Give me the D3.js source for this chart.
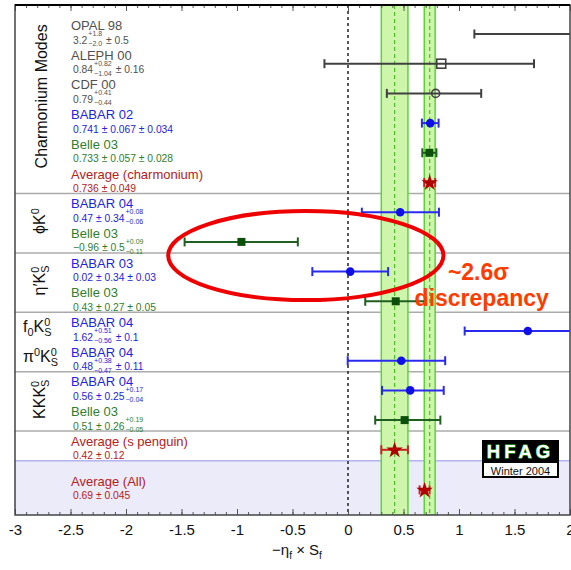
<!DOCTYPE html>
<html lang="en">
<head>
<meta charset="UTF-8">
<title>sin2beta summary - HFAG Winter 2004</title>
<script src="https://d3js.org/d3.v7.min.js"></script>
<style>
  body { margin: 0; background: #fff; }
  svg text { font-family: "Liberation Sans", Arial, sans-serif; white-space: pre; }
</style>
</head>
<body>
<div id="chart"></div>
<script>
// measurements, top to bottom
const labels = ["OPAL 98", "ALEPH 00", "CDF 00", "BABAR 02", "Belle 03", "Average (charmonium)",
  "BABAR 04", "Belle 03", "BABAR 03", "Belle 03", "BABAR 04", "BABAR 04",
  "BABAR 04", "Belle 03", "Average (s penguin)", "Average (All)"];
const central = [3.2, 0.84, 0.79, 0.741, 0.733, 0.736, 0.47, -0.96, 0.02, 0.43, 1.62, 0.48, 0.56, 0.51, 0.42, 0.69];
const statHi  = [1.8, 0.82, 0.41, 0.067, 0.057, 0.049, 0.34, 0.5, 0.34, 0.27, 0.51, 0.38, 0.25, 0.26, 0.12, 0.045];
const statLo  = [2.0, 1.04, 0.44, 0.067, 0.057, 0.049, 0.34, 0.5, 0.34, 0.27, 0.56, 0.47, 0.25, 0.26, 0.12, 0.045];
const systHi  = [0.5, 0.16, 0, 0.034, 0.028, 0, 0.08, 0.09, 0.03, 0.05, 0.1, 0.11, 0.17, 0.19, 0, 0];
const systLo  = [0.5, 0.16, 0, 0.034, 0.028, 0, 0.06, 0.11, 0.03, 0.05, 0.1, 0.11, 0.04, 0.05, 0, 0];

// mode groups (first row, last row)
const groupNames = ["Charmonium Modes", "ϕK^{0}", "η′K^{0}_{S}", "f_{0}K^{0}_{S}", "π^{0}K^{0}_{S}", "KKK^{0}_{S}"];
const groupRows = [[0, 5], [6, 7], [8, 9], [10, 10], [11, 11], [12, 13]];
const sepAfter = [5, 7, 9, 11, 13];
const bandRows = [14, 5];   // s penguin average and charmonium average bands
const xTicks = [-3, -2.5, -2, -1.5, -1, -0.5, 0, 0.5, 1, 1.5, 2];

const width = 571, height = 570;
const pLeft = 15, pRight = 570, pTop = 5, pBottom = 515;

const svg = d3.select("#chart").append("svg")
  .attr("width", width).attr("height", height);

const x = d3.scaleLinear().domain([-3, 2]).range([pLeft, pRight]);
const y = d3.scaleLinear().domain([0, 15]).range([34, 479.5]);
const rowY = i => y(i === 15 ? 15.35 : i);

const tot = (a, b) => Math.sqrt(a * a + b * b);

function styleOf(name) {
  if (name.startsWith("BABAR")) return { text: "#2323dd", bar: "#2a2aee", mark: "#1010e6", shape: "circle" };
  if (name.startsWith("Belle")) return { text: "#2f7d2f", bar: "#1f5f1f", mark: "#0b4f0b", shape: "square" };
  if (name.startsWith("Average")) return { text: "#b52020", bar: "#cc2222", mark: "#b00000", shape: "star" };
  if (name.startsWith("ALEPH")) return { text: "#505050", bar: "#404040", mark: "#404040", shape: "squareOpen" };
  return { text: "#505050", bar: "#404040", mark: "#404040", shape: "circleOpen" };
}

svg.append("defs").append("clipPath").attr("id", "plotclip")
  .append("rect").attr("x", pLeft).attr("y", pTop).attr("width", pRight - pLeft).attr("height", pBottom - pTop);

// shaded overall-average area
const shadeTop = y(14.37);
svg.append("rect").attr("x", pLeft).attr("y", shadeTop).attr("width", pRight - pLeft)
  .attr("height", pBottom - shadeTop).attr("fill", "#ebebfa");
svg.append("line").attr("x1", pLeft).attr("x2", pRight).attr("y1", shadeTop).attr("y2", shadeTop)
  .attr("stroke", "#b4b4f0").attr("stroke-width", 1.5);

// section separators
svg.selectAll(".sep").data(sepAfter).enter().append("line")
  .attr("class", "sep")
  .attr("x1", pLeft).attr("x2", pRight)
  .attr("y1", d => y(d + 0.37)).attr("y2", d => y(d + 0.37))
  .attr("stroke", "#ababab").attr("stroke-width", 1.5);

const plot = svg.append("g").attr("clip-path", "url(#plotclip)");

// average bands
const bands = plot.selectAll(".band").data(bandRows).enter().append("g").attr("class", "band");
bands.append("rect")
  .attr("x", i => x(central[i] - statLo[i]))
  .attr("width", i => x(central[i] + statHi[i]) - x(central[i] - statLo[i]))
  .attr("y", pTop).attr("height", pBottom - pTop)
  .attr("fill", "#cdf6ab").attr("stroke", "#62cf3c").attr("stroke-width", 1.5);
bands.append("line")
  .attr("x1", i => x(central[i])).attr("x2", i => x(central[i]))
  .attr("y1", pTop).attr("y2", pBottom)
  .attr("stroke", "#4cbb2a").attr("stroke-width", 1.2).attr("stroke-dasharray", "4,3");

// zero line
plot.append("line").attr("x1", x(0)).attr("x2", x(0)).attr("y1", pTop).attr("y2", pBottom)
  .attr("stroke", "#222").attr("stroke-width", 1.5).attr("stroke-dasharray", "3,3");

// error bars and markers
const rows = d3.range(labels.length);
const eb = plot.selectAll(".row").data(rows).enter().append("g").attr("class", "row")
  .attr("transform", i => `translate(0,${rowY(i)})`);

const lo = i => x(central[i] - tot(statLo[i], systLo[i]));
const hi = i => x(central[i] + tot(statHi[i], systHi[i]));

eb.append("line").attr("x1", lo).attr("x2", hi).attr("y1", 0).attr("y2", 0)
  .attr("stroke", i => styleOf(labels[i]).bar).attr("stroke-width", 2);
eb.append("line").attr("x1", lo).attr("x2", lo).attr("y1", -4.5).attr("y2", 4.5)
  .attr("stroke", i => styleOf(labels[i]).bar).attr("stroke-width", 2);
eb.append("line").attr("x1", hi).attr("x2", hi).attr("y1", -4.5).attr("y2", 4.5)
  .attr("stroke", i => styleOf(labels[i]).bar).attr("stroke-width", 2);

eb.each(function(i) {
  const g = d3.select(this);
  const s = styleOf(labels[i]);
  const cx = x(central[i]);
  if (s.shape === "circle") {
    g.append("circle").attr("cx", cx).attr("r", 4.3).attr("fill", s.mark);
  } else if (s.shape === "square") {
    g.append("rect").attr("x", cx - 4).attr("y", -4).attr("width", 8).attr("height", 8).attr("fill", s.mark);
  } else if (s.shape === "star") {
    g.append("path").attr("d", d3.symbol(d3.symbolStar).size(85)())
      .attr("transform", `translate(${cx},0.5)`).attr("fill", s.mark);
  } else if (s.shape === "squareOpen") {
    g.append("rect").attr("x", cx - 4.5).attr("y", -4.5).attr("width", 9).attr("height", 9)
      .attr("fill", "none").attr("stroke", s.mark).attr("stroke-width", 1.6);
  } else {
    g.append("circle").attr("cx", cx).attr("r", 4).attr("fill", "none")
      .attr("stroke", s.mark).attr("stroke-width", 1.6);
  }
});

// measurement labels
const num = v => (Number.isInteger(v) ? v.toFixed(1) : String(v));

function valueText(g, x0, yb, i, color) {
  let cx = x0;
  const piece = (str, size, dy) => g.append("text").attr("x", cx).attr("y", yb + dy)
    .attr("font-size", size).attr("fill", color).text(str)
    .node().getComputedTextLength();
  const err = (h, l) => {
    if (h === l) {
      cx += piece(" \u00b1 " + num(h), 10.3, 0);
    } else {
      cx += 1;
      const w1 = piece("+" + num(h), 7, -7.5);
      const w2 = piece("\u2212" + num(l), 7, 2.5);
      cx += Math.max(w1, w2) + 1;
    }
  };
  cx += piece(String(central[i]).replace("-", "\u2212"), 10.3, 0);
  err(statHi[i], statLo[i]);
  if (systHi[i] > 0) err(systHi[i], systLo[i]);
}

const lab = svg.append("g");
rows.forEach(i => {
  const s = styleOf(labels[i]);
  const yy = rowY(i);
  lab.append("text").attr("x", 71).attr("y", yy - 4).attr("font-size", 13)
    .attr("fill", s.text).text(labels[i]);
  valueText(lab, 73, yy + 9.5, i, s.text);
});

// group labels with simple ^{..} / _{..} markup
function richText(t, str, size) {
  const small = size * 0.68;
  const re = /(\^\{[^}]*\}|_\{[^}]*\}|[^^_]+)/g;
  const parts = str.match(re);
  let shift = 0, prevSup = 0;
  parts.forEach(p => {
    if (p.startsWith("^")) {
      const s = p.slice(2, -1);
      t.append("tspan").attr("font-size", small).attr("dy", -6 - shift).text(s);
      shift = -6; prevSup = s.length * small * 0.556;
    } else if (p.startsWith("_")) {
      const s = p.slice(2, -1);
      t.append("tspan").attr("font-size", small).attr("dx", prevSup ? -prevSup : 0)
        .attr("dy", 4 - shift).text(s);
      shift = 4; prevSup = 0;
    } else {
      t.append("tspan").attr("font-size", size).attr("dy", -shift).text(p);
      shift = 0; prevSup = 0;
    }
  });
}

const groupCenter = [2.1, 6.3, 8.3, 10, 11, 12.3];
groupNames.forEach((name, k) => {
  const rotated = groupRows[k][0] !== groupRows[k][1];
  const t = svg.append("text").attr("fill", "#111");
  if (rotated) {
    t.attr("text-anchor", "middle")
      .attr("transform", `translate(${k === 0 ? 47 : 45},${y(groupCenter[k])}) rotate(-90)`);
  } else {
    t.attr("x", 23).attr("y", y(groupCenter[k]) + 1);
  }
  richText(t, name, 16);
});

// axes
const axB = svg.append("g").attr("transform", `translate(0,${pBottom})`);
axB.call(d3.axisBottom(x).ticks(50).tickSize(-3).tickFormat(""));
const axB2 = svg.append("g").attr("transform", `translate(0,${pBottom})`);
axB2.call(d3.axisBottom(x).tickValues(xTicks).tickSize(-6).tickPadding(9).tickFormat(d => String(d)));
const axT = svg.append("g").attr("transform", `translate(0,${pTop})`);
axT.call(d3.axisTop(x).ticks(50).tickSize(-3).tickFormat(""));
const axT2 = svg.append("g").attr("transform", `translate(0,${pTop})`);
axT2.call(d3.axisTop(x).tickValues(xTicks).tickSize(-6).tickFormat(""));
svg.selectAll(".domain").remove();
svg.selectAll(".tick line").attr("stroke", "#555");
axB2.selectAll("text").attr("font-size", 15).attr("fill", "#111")
  .attr("font-family", "Liberation Sans, Arial, sans-serif");

// frame
svg.append("rect").attr("x", pLeft).attr("y", pTop).attr("width", pRight - pLeft).attr("height", pBottom - pTop)
  .attr("fill", "none").attr("stroke", "#444").attr("stroke-width", 1.5);
svg.append("line").attr("x1", pLeft).attr("x2", pRight).attr("y1", pTop).attr("y2", pTop)
  .attr("stroke", "#000").attr("stroke-width", 2);

// axis title
const title = svg.append("text").attr("x", 297).attr("y", 555).attr("text-anchor", "middle")
  .attr("font-size", 15).attr("fill", "#111");
title.append("tspan").text("\u2212\u03b7");
title.append("tspan").attr("font-size", 10).attr("dy", 4).text("f");
title.append("tspan").attr("dy", -4).text(" \u00d7 S");
title.append("tspan").attr("font-size", 10).attr("dy", 4).text("f");

// HFAG logo
const logo = svg.append("g");
logo.append("rect").attr("x", 482).attr("y", 440).attr("width", 77).attr("height", 38).attr("fill", "#000");
logo.append("rect").attr("x", 484).attr("y", 463).attr("width", 73).attr("height", 13).attr("fill", "#fff");
logo.append("text").attr("x", 520.5).attr("y", 458).attr("text-anchor", "middle")
  .attr("font-size", 18.5).attr("font-weight", "bold").attr("letter-spacing", 4)
  .attr("fill", "#fff").attr("stroke", "#33cc33").attr("stroke-width", 1).attr("paint-order", "stroke")
  .text("HFAG");
logo.append("text").attr("x", 520.5).attr("y", 474.5).attr("text-anchor", "middle")
  .attr("font-size", 11).attr("fill", "#111").text("Winter 2004");

// discrepancy annotation
svg.append("ellipse")
  .attr("cx", x(-0.38)).attr("cy", y(7.46))
  .attr("rx", x(1.24) - x(0)).attr("ry", y(1.5) - y(0))
  .attr("fill", "none").attr("stroke", "#ee0000").attr("stroke-width", 4);
svg.append("text").attr("x", x(0.9)).attr("y", 280)
  .attr("font-family", "DejaVu Sans, sans-serif").attr("font-weight", "bold").attr("font-size", 23)
  .attr("fill", "#ff3c00").text("~2.6\u03c3");
svg.append("text").attr("x", x(0.6)).attr("y", 306)
  .attr("font-family", "DejaVu Sans, sans-serif").attr("font-weight", "bold").attr("font-size", 23)
  .attr("fill", "#ff3c00").text("discrepancy");
</script>
</body>
</html>
